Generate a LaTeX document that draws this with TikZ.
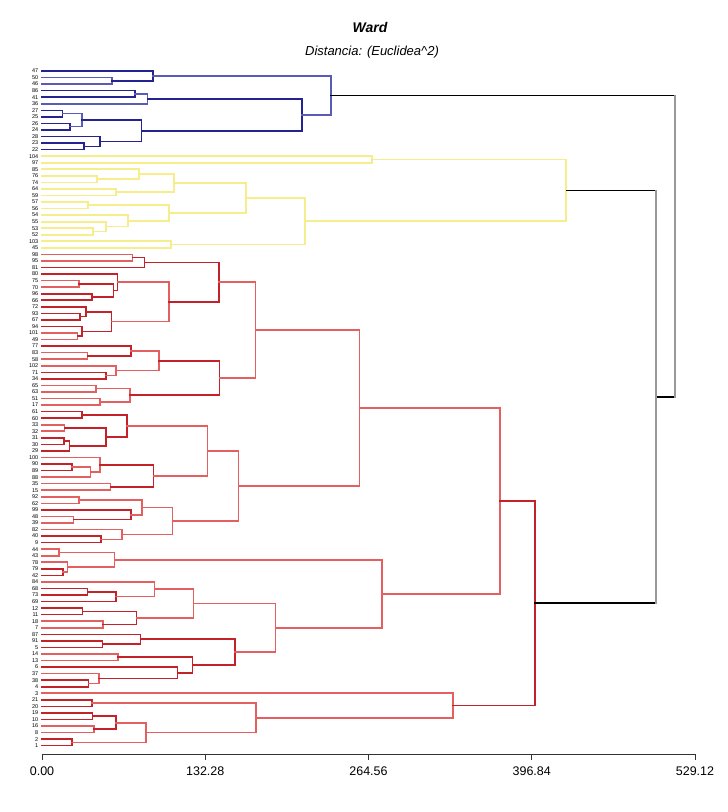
\documentclass[tikz,border=0pt]{standalone}
\usepackage{fontspec}
\setmainfont{Liberation Sans}
\usetikzlibrary{calc}

\definecolor{bluedk}{RGB}{35,35,145}
\definecolor{bluelt}{RGB}{90,90,185}
\definecolor{yell}{RGB}{246,238,140}
\definecolor{reddk}{RGB}{195,35,40}
\definecolor{redlt}{RGB}{228,95,95}

\tikzset{
  link/.style={line width=1.6pt, line cap=rect, line join=miter},
  bd/.style={link, draw=bluedk},
  bl/.style={link, draw=bluelt},
  yl/.style={link, draw=yell, line width=1.7pt},
  rd/.style={link, draw=reddk},
  rl/.style={link, draw=redlt},
  root/.style={link, draw=black},
  rootv/.style={link, draw=gray!80},
  leaflab/.style={anchor=east, inner sep=0pt, font=\fontsize{5.5}{5.5}\selectfont},
  ticklab/.style={inner sep=0pt, font=\fontsize{12.5}{13}\selectfont},
}

% one merge: name, first child, second child, height (px), style
\newcommand{\fuse}[5]{%
  \path let \p1=(#2), \p2=(#3) in (#4pt,{0.5*\y1+0.5*\y2}) coordinate (#1);
  \draw[#5] (#2) -- (#2 -| #1) -- (#3 -| #1) -- (#3);
}

\begin{document}
\begin{tikzpicture}[x=1pt,y=-1pt]
\useasboundingbox (0,0) rectangle (728,812);

\node[font=\bfseries\itshape\fontsize{14}{16}\selectfont] (title) at (370,27) {Ward};
\node[font=\itshape\fontsize{13}{15}\selectfont] (subtitle) at (372,52) {Distancia: (Euclidea\^{}2)};

% leaves
\foreach \lab [count=\i from 0] in {47,50,46,86,41,36,27,25,26,24,28,23,22,
    104,97,85,76,74,64,59,57,56,54,55,53,52,103,45,
    98,95,81,80,75,70,96,66,72,93,67,94,101,49,77,83,58,102,71,34,65,63,51,17,
    61,60,33,32,31,30,29,100,90,89,88,35,15,92,62,99,48,39,82,40,9,
    44,43,78,79,42,84,68,73,69,12,11,18,7,87,91,5,14,13,6,37,38,4,
    3,21,20,19,10,16,8,2,1}{
  \coordinate (L\lab) at (42,{71+6.55*\i});
  \node[leaflab] (n\lab) at (38.5,{71+6.55*\i}) {\lab};
}

% blue group
\fuse{b1}{L50}{L46}{111.7}{bl}
\fuse{b2}{L47}{b1}{152.7}{bd}
\fuse{b3}{L86}{L41}{135}{bd}
\fuse{b4}{b3}{L36}{147.3}{bl}
\fuse{b5}{L27}{L25}{62.3}{bd}
\fuse{b6}{L26}{L24}{70}{bd}
\fuse{b7}{b5}{b6}{82}{bl}
\fuse{b8}{L23}{L22}{84}{bd}
\fuse{b9}{L28}{b8}{100}{bd}
\fuse{b10}{b7}{b9}{141.3}{bd}
\fuse{b11}{b4}{b10}{301.7}{bd}
\fuse{b12}{b2}{b11}{331}{bl}

% yellow group
\fuse{y1}{L104}{L97}{371.7}{yl}
\fuse{y2}{L76}{L74}{97.3}{yl}
\fuse{y3}{L85}{y2}{139.3}{yl}
\fuse{y4}{L64}{L59}{116.3}{yl}
\fuse{y5}{y3}{y4}{174}{yl}
\fuse{y6}{L57}{L56}{88.3}{yl}
\fuse{y7}{L53}{L52}{93}{yl}
\fuse{y8}{L55}{y7}{105.7}{yl}
\fuse{y9}{L54}{y8}{128.3}{yl}
\fuse{y10}{y6}{y9}{169}{yl}
\fuse{y11}{y5}{y10}{246}{yl}
\fuse{y12}{L103}{L45}{171}{yl}
\fuse{y13}{y11}{y12}{305}{yl}
\fuse{y14}{y1}{y13}{566.3}{yl}

% red group
\fuse{r1}{L98}{L95}{132.3}{rl}
\fuse{r2}{r1}{L81}{144.3}{rd}
\fuse{r3}{L75}{L70}{78.7}{rl}
\fuse{r4}{L96}{L66}{92}{rd}
\fuse{r5}{r3}{r4}{113.3}{rd}
\fuse{r6}{L80}{r5}{117.3}{rd}
\fuse{r7}{L93}{L67}{80}{rd}
\fuse{r8}{L72}{r7}{85.7}{rd}
\fuse{r9}{L101}{L49}{77.3}{rl}
\fuse{r10}{L94}{r9}{82}{rd}
\fuse{r11}{r8}{r10}{111.3}{rd}
\fuse{r12}{r6}{r11}{169}{rl}
\fuse{r13}{r2}{r12}{218.7}{rd}
\fuse{r14}{L83}{L58}{87.3}{rl}
\fuse{r15}{L77}{r14}{130.7}{rd}
\fuse{r16}{L71}{L34}{106}{rd}
\fuse{r17}{L102}{r16}{115.7}{rl}
\fuse{r18}{r15}{r17}{159}{rl}
\fuse{r19}{L65}{L63}{95.7}{rl}
\fuse{r20}{L51}{L17}{100}{rl}
\fuse{r21}{r19}{r20}{130}{rl}
\fuse{r22}{r18}{r21}{219.3}{rd}
\fuse{r23}{r13}{r22}{255.3}{rl}
\fuse{r24}{L61}{L60}{81.7}{rd}
\fuse{r25}{L33}{L32}{64.3}{rl}
\fuse{r26}{L31}{L30}{63.7}{rd}
\fuse{r27}{r26}{L29}{69.3}{rd}
\fuse{r28}{r25}{r27}{106}{rd}
\fuse{r29}{r24}{r28}{127}{rd}
\fuse{r30}{L90}{L89}{71.7}{rd}
\fuse{r31}{r30}{L88}{90.3}{rl}
\fuse{r32}{L100}{r31}{100}{rl}
\fuse{r33}{L35}{L15}{110.3}{rl}
\fuse{r34}{r32}{r33}{153.3}{rd}
\fuse{r35}{r29}{r34}{207.3}{rl}
\fuse{r36}{L92}{L62}{79}{rl}
\fuse{r37}{L48}{L39}{73.3}{rl}
\fuse{r38}{L99}{r37}{131}{rd}
\fuse{r39}{r36}{r38}{142}{rl}
\fuse{r40}{L40}{L9}{101}{rd}
\fuse{r41}{L82}{r40}{121.7}{rl}
\fuse{r42}{r39}{r41}{172.3}{rl}
\fuse{r43}{r35}{r42}{238.3}{rl}
\fuse{r44}{r23}{r43}{359.3}{rl}
\fuse{r45}{L44}{L43}{59}{rl}
\fuse{r46}{L79}{L42}{62.7}{rd}
\fuse{r47}{L78}{r46}{67.3}{rl}
\fuse{r48}{r45}{r47}{114.3}{rl}
\fuse{r49}{L68}{L73}{87.3}{rd}
\fuse{r50}{r49}{L69}{115.7}{rd}
\fuse{r51}{L84}{r50}{154.3}{rl}
\fuse{r52}{L12}{L11}{82.3}{rd}
\fuse{r53}{L18}{L7}{103}{rl}
\fuse{r54}{r52}{r53}{136.3}{rd}
\fuse{r55}{r51}{r54}{193.3}{rl}
\fuse{r56}{L91}{L5}{102.3}{rd}
\fuse{r57}{L87}{r56}{140.3}{rd}
\fuse{r58}{L14}{L13}{117.7}{rl}
\fuse{r59}{L38}{L4}{88.3}{rd}
\fuse{r60}{L37}{r59}{99}{rl}
\fuse{r61}{L6}{r60}{177.3}{rd}
\fuse{r62}{r58}{r61}{192.3}{rd}
\fuse{r63}{r57}{r62}{235}{rd}
\fuse{r64}{r55}{r63}{275.3}{rl}
\fuse{r65}{r48}{r64}{381.7}{rl}
\fuse{r66}{r44}{r65}{499.7}{rl}
\fuse{r67}{L21}{L20}{91.7}{rd}
\fuse{r68}{L19}{L10}{92.3}{rd}
\fuse{r69}{L16}{L8}{94}{rl}
\fuse{r70}{r68}{r69}{116}{rd}
\fuse{r71}{L2}{L1}{72}{rd}
\fuse{r72}{r70}{r71}{146}{rl}
\fuse{r73}{r67}{r72}{256}{rl}
\fuse{r74}{L3}{r73}{453}{rl}
\fuse{r75}{r66}{r74}{535}{rd}

% top of the tree
\fuse{k1}{y14}{r75}{656}{root}
\fuse{k2}{b12}{k1}{675}{root}
\draw[rootv] (y14 -| k1) -- (r75 -| k1);
\draw[rootv] (b12 -| k2) -- (k1 -| k2);

% axis
\coordinate (ax0) at (42,754);
\coordinate (ax1) at (695,754);
\draw[line width=0.8pt, gray!40!black] (ax0) -- (ax1);
\foreach \v [count=\k from 0] in {0.00,132.28,264.56,396.84,529.12}{
  \coordinate (tk\k) at ($(ax0)!\k/4!(ax1)$);
  \draw[line width=0.8pt, gray!40!black] (tk\k) -- ++(0,6);
  \node[ticklab] (tl\k) at ($(tk\k)+(0,17)$) {\v};
}
\end{tikzpicture}
\end{document}
